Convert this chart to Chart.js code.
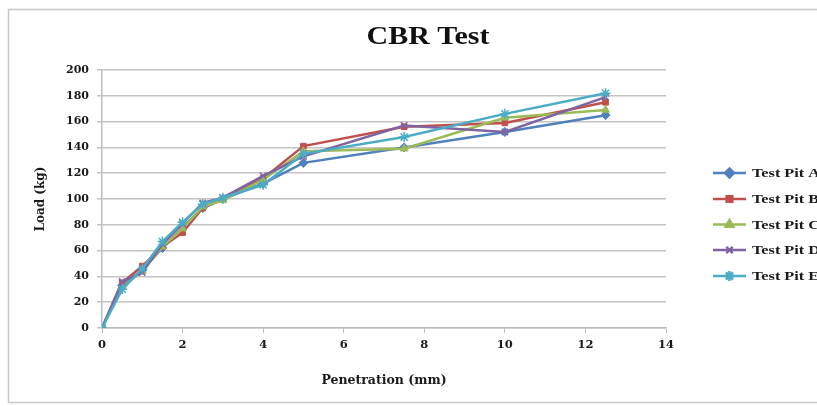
<!DOCTYPE html>
<html>
<head>
<meta charset="utf-8">
<script src="https://cdn.jsdelivr.net/npm/chart.js@4"></script>
<style>
  html, body { margin: 0; padding: 0; background: #ffffff; }
  #wrap { position: relative; width: 817px; height: 406px; }
</style>
</head>
<body>
<div id="wrap"><canvas id="c" width="817" height="406"></canvas></div>
<script>
const chartTitle = "CBR Test";
const xAxisTitle = "Penetration (mm)";
const yAxisTitle = "Load (kg)";
const penetration = [0, 0.5, 1, 1.5, 2, 2.5, 3, 4, 5, 7.5, 10, 12.5];
const seriesNames = ["Test Pit A", "Test Pit B", "Test Pit C", "Test Pit D", "Test Pit E"];
const pitA = [0, 33, 45, 62, 78, 93, 100, 112, 128, 140, 152, 165];
const pitB = [0, 35, 48, 63, 74, 93, 100, 116, 141, 156, 159, 175];
const pitC = [0, 32, 44, 63, 77, 94, 99, 115, 137, 139, 163, 169];
const pitD = [0, 36, 43, 65, 81, 97, 101, 118, 133, 157, 152, 179];
const pitE = [0, 30, 46, 67, 82, 96, 101, 111, 135, 148, 166, 182];
const seriesValues = [pitA, pitB, pitC, pitD, pitE];
const seriesColors = ["#4F81BD", "#C0504D", "#9BBB59", "#8064A2", "#4BACC6"];
const markerStyles = ["rectRot", "rect", "triangle", "crossRot", "star"];
const markerRadius = [4.5, 4, 4.5, 4.5, 5];

const serif = "'Liberation Serif', 'Times New Roman', serif";
const wideSerif = "'DejaVu Serif', serif";

const datasets = seriesNames.map((name, i) => ({
  label: name,
  data: penetration.map((x, j) => ({ x: x, y: seriesValues[i][j] })),
  borderColor: seriesColors[i],
  backgroundColor: seriesColors[i],
  pointBackgroundColor: seriesColors[i],
  pointBorderColor: seriesColors[i],
  pointStyle: markerStyles[i],
  pointRadius: markerRadius[i],
  pointBorderWidth: (markerStyles[i] === 'crossRot' || markerStyles[i] === 'star') ? 1.5 : 1,
  borderWidth: 2.5,
  showLine: true,
  tension: 0,
  order: 5 - i
}));

function stretchedText(ctx, text, x, y, font, sx, align) {
  ctx.save();
  ctx.font = font;
  ctx.textBaseline = 'middle';
  ctx.textAlign = align;
  ctx.translate(x, y);
  ctx.scale(sx, 1);
  ctx.fillText(text, 0, 0);
  ctx.restore();
}

const decor = {
  id: 'decor',
  beforeDraw(chart) {
    const ctx = chart.ctx;
    ctx.save();
    ctx.fillStyle = '#ffffff';
    ctx.fillRect(0, 0, chart.width, chart.height);
    ctx.strokeStyle = '#c8c8c8';
    ctx.lineWidth = 1.5;
    ctx.beginPath();
    ctx.moveTo(830, 9.5);
    ctx.lineTo(8.5, 9.5);
    ctx.lineTo(8.5, 402.5);
    ctx.lineTo(830, 402.5);
    ctx.stroke();
    ctx.restore();
  },
  afterDraw(chart) {
    const ctx = chart.ctx;
    ctx.save();
    ctx.fillStyle = '#111111';
    stretchedText(ctx, chartTitle, 428, 38, 'bold 25px ' + serif, 1.2, 'center');
    const ys = [173, 199, 224.5, 250, 276];
    chart.data.datasets.forEach((ds, i) => {
      const y = ys[i];
      ctx.strokeStyle = ds.borderColor;
      ctx.lineWidth = 2.5;
      ctx.beginPath();
      ctx.moveTo(713, y);
      ctx.lineTo(746, y);
      ctx.stroke();
      ctx.fillStyle = ds.backgroundColor;
      Chart.helpers.drawPoint(ctx, {
        pointStyle: ds.pointStyle,
        radius: ds.pointRadius,
        borderWidth: ds.pointBorderWidth,
        rotation: 0
      }, 729.5, y);
      ctx.fillStyle = '#1a1a1a';
      stretchedText(ctx, ds.label, 752, y + 1, 'bold 13px ' + serif, 1.25, 'left');
    });
    ctx.restore();
  }
};

new Chart(document.getElementById('c'), {
  type: 'scatter',
  data: { datasets: datasets },
  plugins: [decor],
  options: {
    responsive: false,
    animation: false,
    devicePixelRatio: 1,
    layout: { padding: { left: 30, right: 151, top: 70, bottom: 4 } },
    plugins: {
      legend: { display: false },
      title: { display: false },
      tooltip: { enabled: false }
    },
    scales: {
      x: {
        type: 'linear',
        min: 0, max: 14,
        ticks: { stepSize: 2, color: '#1a1a1a', font: { family: wideSerif, size: 11.5, weight: 'bold' }, padding: 5 },
        grid: { drawOnChartArea: false, color: '#bdbdbd', tickLength: 5 },
        border: { display: true, color: '#bdbdbd', width: 1.5 },
        title: { display: true, text: xAxisTitle, color: '#1a1a1a', font: { family: wideSerif, size: 12.5, weight: 'bold' }, padding: { top: 4, bottom: 14 } },
        afterFit(s) { s.height = 74; }
      },
      y: {
        type: 'linear',
        min: 0, max: 200,
        ticks: { stepSize: 20, color: '#1a1a1a', font: { family: wideSerif, size: 11, weight: 'bold' }, padding: 8 },
        grid: { color: '#c4c4c4', lineWidth: 1.5, tickLength: 5 },
        border: { display: true, color: '#bdbdbd', width: 1.5 },
        title: { display: true, text: yAxisTitle, color: '#1a1a1a', font: { family: wideSerif, size: 12, weight: 'bold' }, padding: { bottom: 4 } },
        afterFit(s) { s.width = 72; }
      }
    }
  }
});
</script>
</body>
</html>
